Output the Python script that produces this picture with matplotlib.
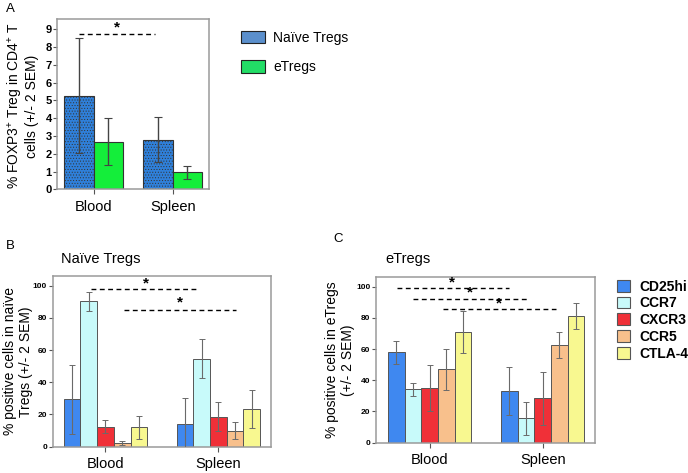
import matplotlib.pyplot as plt
from matplotlib.patches import Patch
import numpy as np

plt.rcParams['font.family'] = ['Liberation Sans', 'DejaVu Sans']
plt.rcParams['mathtext.fontset'] = 'custom'
plt.rcParams['mathtext.rm'] = 'Liberation Sans'
plt.rcParams['hatch.linewidth'] = 0.4
plt.rcParams['hatch.color'] = '#1d5fae'

tissues = ['Blood', 'Spleen']

# panel A: % FOXP3+ Treg, [blood, spleen]
a_groups = ['Naïve Tregs', 'eTregs']
a_mean = [[5.27, 2.80], [2.68, 0.95]]
a_low = [[2.05, 1.52], [1.35, 0.60]]
a_high = [[8.50, 4.07], [4.02, 1.32]]
a_colors = ['#2f80da', '#14ee3a']
a_legend_colors = ['#5b8fcc', '#22dd66']

# panel B/C markers
markers = ['CD25hi', 'CCR7', 'CXCR3', 'CCR5', 'CTLA-4']
marker_colors = ['#3f88f0', '#c8fafa', '#f03038', '#f8c08c', '#f8f890']

naive_mean = [[29.5, 13.8], [90.5, 54.7], [12.5, 18.5], [2.2, 10.0], [12.0, 23.5]]
naive_low = [[7.8, -2.5], [84.5, 42.4], [8.5, 9.5], [0.8, 4.5], [4.8, 11.5]]
naive_high = [[50.7, 30.0], [96.3, 67.0], [16.5, 27.5], [3.6, 15.5], [19.2, 35.5]]

etreg_mean = [[57.9, 32.9], [34.1, 15.6], [34.8, 28.4], [47.0, 62.6], [71.2, 81.4]]
etreg_low = [[50.4, 17.5], [30.2, 4.8], [20.3, 11.1], [34.0, 54.0], [57.8, 73.0]]
etreg_high = [[65.4, 48.3], [38.0, 26.3], [49.5, 45.5], [60.0, 71.2], [84.3, 89.8]]

# significance lines: (x start, x end, y, star x, star y)
a_sig = [(-0.185, 0.78, 8.75, 0.30, 9.12)]
b_sig = [(-0.131, 0.829, 98, 0.356, 101.5),
         (0.164, 1.157, 85, 0.66, 89.5)]
c_sig = [(-0.292, 0.702, 99, 0.20, 103.0),
         (-0.145, 0.858, 92, 0.357, 96.0),
         (0.118, 1.12, 85.5, 0.613, 89.2)]

fig = plt.figure(figsize=(6.88, 4.73), dpi=100)


def style_axes(ax, tick_size):
	for s in ax.spines.values():
		s.set_color('#9a9a9a')
		s.set_linewidth(1.1)
	ax.tick_params(axis='y', labelsize=tick_size, length=3, width=0.8,
	               color='#555555', pad=1)
	ax.tick_params(axis='x', labelsize=10.5, length=3.5, width=0.8,
	               color='#555555', pad=4)
	for lab in ax.get_yticklabels():
		lab.set_fontweight('bold')


def draw_sig(ax, sig):
	for x0, x1, y, sx, sy in sig:
		ax.plot([x0, x1], [y, y], color='black', lw=1.0,
		        linestyle=(0, (3.5, 2.5)), clip_on=False)
		ax.text(sx, sy, '*', ha='center', va='center', fontsize=11,
		        fontweight='bold')


# ---------- panel A ----------
axA = fig.add_axes([0.0833, 0.5998, 0.2209, 0.3594])
x = np.arange(len(tissues))
wA = 0.371
for i in range(2):
	m = np.array(a_mean[i])
	err = [m - np.array(a_low[i]), np.array(a_high[i]) - m]
	pos = x + (i - 0.5) * wA
	axA.bar(pos, m, wA, color=a_colors[i], edgecolor='#333333', linewidth=0.8,
	        hatch='......' if i == 0 else None, zorder=2)
	axA.errorbar(pos, m, yerr=err, fmt='none', ecolor='#444444', elinewidth=1,
	             capsize=3, capthick=0.8, zorder=3)
axA.set_xlim(-0.46, 1.463)
axA.set_ylim(0, 9.56)
axA.set_yticks(range(10))
axA.set_xticks(x)
axA.set_xticklabels(tissues)
style_axes(axA, 8)
axA.set_ylabel('% FOXP3$^{+}$ Treg in CD4$^{+}$ T\ncells (+/- 2 SEM)',
               fontsize=10, linespacing=1.05)
axA.yaxis.set_label_coords(-0.118, 0.49)
draw_sig(axA, a_sig)

handlesA = [Patch(facecolor=c, edgecolor='#222222', linewidth=0.8)
            for c in a_legend_colors]
fig.legend(handlesA, a_groups, loc='upper left', bbox_to_anchor=(0.351, 0.935),
           frameon=False, fontsize=10, handlelength=1.7, handleheight=1.0,
           handletextpad=0.6, labelspacing=1.12, borderpad=0, borderaxespad=0)


# ---------- panels B and C ----------
def marker_panel(rect, mean, low, high, sig, title, title_x, title_y,
                 ylabel, label_x, xlim, ylim_top, spacing):
	ax = fig.add_axes(rect)
	w = 0.148
	for i in range(len(markers)):
		m = np.array(mean[i])
		err = [m - np.array(low[i]), np.array(high[i]) - m]
		pos = x + (i - 2) * w
		ax.bar(pos, m, w, color=marker_colors[i], edgecolor='#555555',
		       linewidth=0.7, zorder=2)
		ax.errorbar(pos, m, yerr=err, fmt='none', ecolor='#6a6a6a',
		            elinewidth=0.8, capsize=2, capthick=0.7, zorder=3)
	ax.set_xlim(*xlim)
	ax.set_ylim(0, ylim_top)
	ax.set_yticks(range(0, 101, 20))
	ax.set_xticks(x)
	ax.set_xticklabels(tissues)
	style_axes(ax, 6)
	ax.set_ylabel(ylabel, fontsize=10, linespacing=spacing)
	ax.yaxis.set_label_coords(label_x, 0.5)
	ax.text(title_x, title_y, title, transform=ax.transAxes, fontsize=10.5,
	        ha='left', va='baseline')
	draw_sig(ax, sig)
	return ax


axB = marker_panel([0.0766, 0.0556, 0.3177, 0.3609], naive_mean, naive_low,
                   naive_high, b_sig, 'Naïve Tregs', 0.038, 1.075,
                   '% positive cells in naïve\nTregs (+/- 2 SEM)', -0.092,
                   (-0.468, 1.47), 106, 1.1)
axC = marker_panel([0.5465, 0.0641, 0.3188, 0.3496], etreg_mean, etreg_low,
                   etreg_high, c_sig, 'eTregs', 0.044, 1.085,
                   '% positive cells in eTregs\n(+/- 2 SEM)', -0.094,
                   (-0.475, 1.466), 106, 1.25)

handlesC = [Patch(facecolor=c, edgecolor='#555555', linewidth=0.8)
            for c in marker_colors]
legC = fig.legend(handlesC, markers, loc='upper left',
                  bbox_to_anchor=(0.897, 0.409), frameon=False,
                  prop={'size': 10, 'weight': 'bold'}, handlelength=0.92,
                  handleheight=0.92, handletextpad=0.65, labelspacing=0.2,
                  borderpad=0, borderaxespad=0)

fig.text(0.009, 0.993, 'A', fontsize=9.5, va='top', ha='left')
fig.text(0.009, 0.4926, 'B', fontsize=9.5, va='top', ha='left')
fig.text(0.484, 0.5067, 'C', fontsize=9.5, va='top', ha='left')

fig.savefig('out.png', dpi=100)
